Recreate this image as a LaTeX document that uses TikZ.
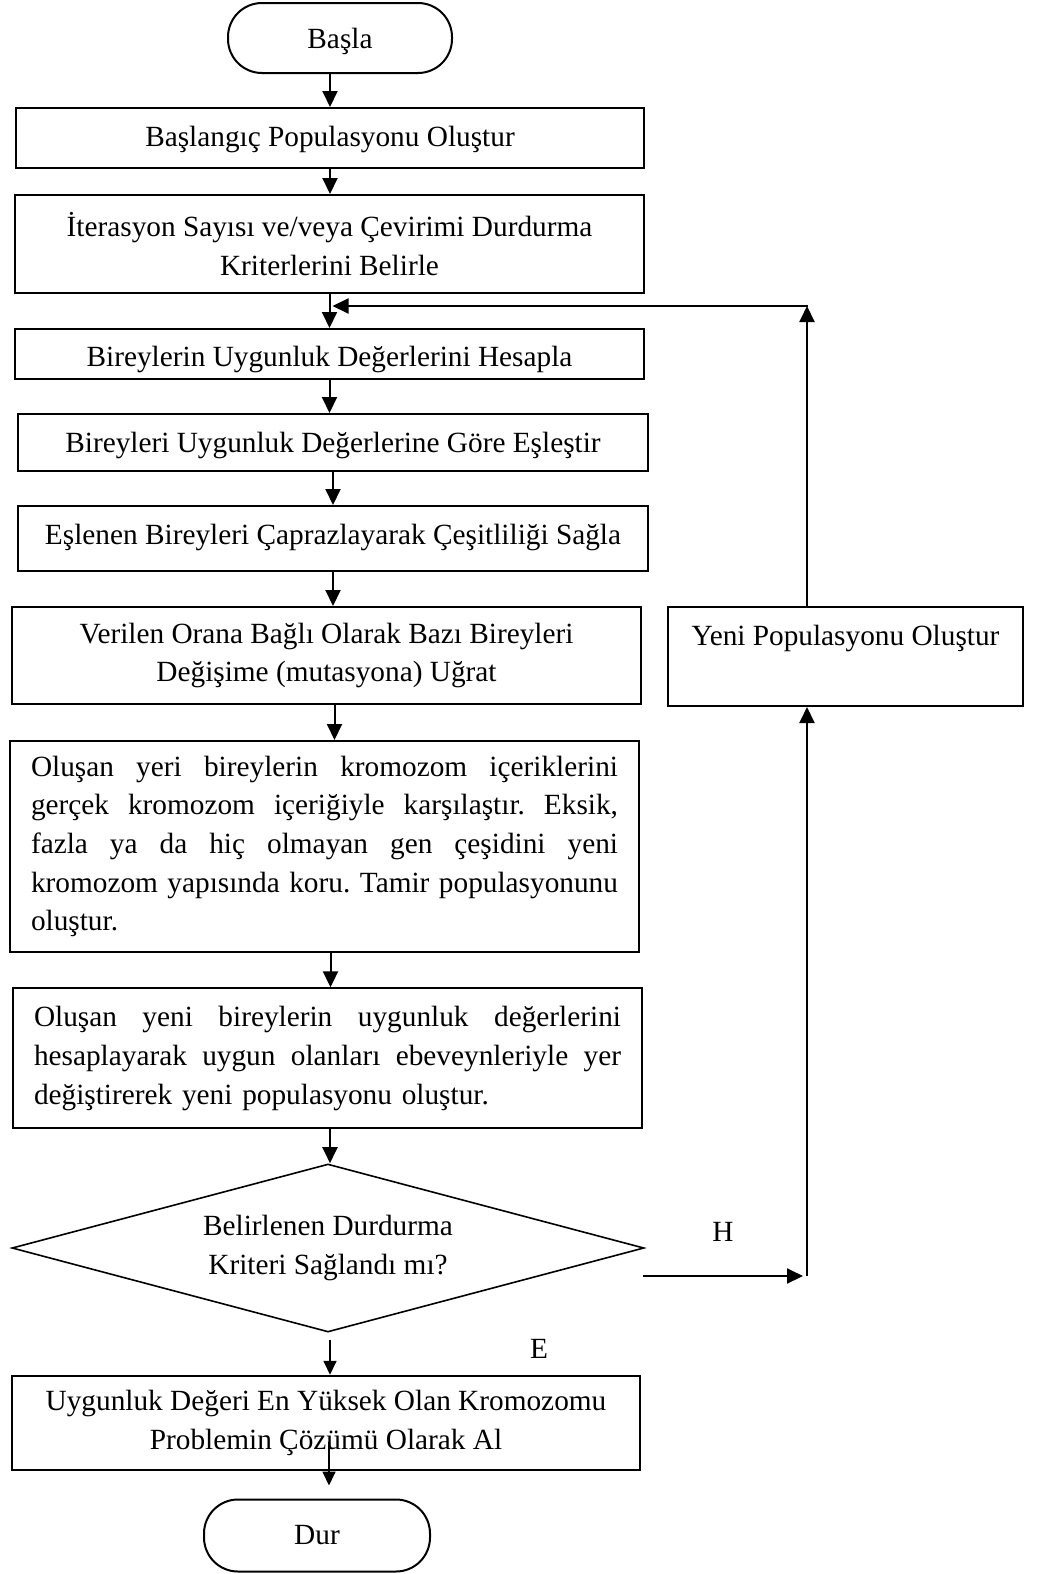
\documentclass[tikz,border=0pt]{standalone}
\usepackage{fontspec}
\setmainfont{Liberation Serif}
\usetikzlibrary{arrows.meta,shapes.geometric}
\newcommand\jline[1]{\leavevmode\hbox to 587pt{#1}}
\begin{document}
\begin{tikzpicture}[x=1pt,y=-1pt,
  every node/.style={font=\fontsize{29.3}{38.7}\selectfont, inner sep=0pt},
  proc/.style={draw, line width=2pt, rectangle},
  term/.style={draw, line width=2pt, rounded corners=34pt},
  decis/.style={draw, line width=1.6pt, diamond, aspect=3.8},
  arr/.style={line width=2pt, -{Triangle[length=16pt,width=15pt]}},
  sarr/.style={line width=1.7pt, -{Triangle[length=14pt,width=13pt]}}]
\fill[white] (0,0) rectangle (1043,1574);
\useasboundingbox (0,0) rectangle (1043,1574);

\node[term, minimum width=224pt, minimum height=70pt, text height=24pt, text depth=4pt] (start) at (340,38) {Başla};
\node[proc, minimum width=628pt, minimum height=60pt, text height=21pt, text depth=5pt] (b1) at (330,138) {Başlangıç Populasyonu Oluştur};
\node[proc, minimum width=629pt, minimum height=98pt, align=center] (b2) at (329.5,244) {İterasyon Sayısı ve/veya Çevirimi Durdurma\\Kriterlerini Belirle};
\node[proc, minimum width=629pt, minimum height=50pt, text height=27pt, text depth=3pt] (b3) at (329.5,354) {Bireylerin Uygunluk Değerlerini Hesapla};
\node[proc, minimum width=630pt, minimum height=57pt, text height=23pt, text depth=4pt] (b4) at (333,442.5) {Bireyleri Uygunluk Değerlerine Göre Eşleştir};
\node[proc, minimum width=630pt, minimum height=65pt, text height=17pt, text depth=6pt] (b5) at (333,538.5) {Eşlenen Bireyleri Çaprazlayarak Çeşitliliği Sağla};
\node[proc, minimum width=629pt, minimum height=97pt, align=center] (b6) at (326.5,655.5) {Verilen Orana Bağlı Olarak Bazı Bireyleri\\Değişime (mutasyona) Uğrat};
\node[proc, minimum width=629pt, minimum height=211pt, text width=587pt, align=left] (b7) at (324.5,846.5) {\jline{Oluşan\hfill yeri\hfill bireylerin\hfill kromozom\hfill içeriklerini}\\\jline{gerçek\hfill kromozom\hfill içeriğiyle\hfill karşılaştır.\hfill Eksik,}\\\jline{fazla\hfill ya\hfill da\hfill hiç\hfill olmayan\hfill gen\hfill çeşidini\hfill yeni}\\\jline{kromozom\hfill yapısında\hfill koru.\hfill Tamir\hfill populasyonunu}\\oluştur.};
\node[proc, minimum width=629pt, minimum height=140pt, text width=587pt, align=left] (b8) at (327.5,1058.3) {\jline{Oluşan\hfill yeni\hfill bireylerin\hfill uygunluk\hfill değerlerini}\\\jline{hesaplayarak\hfill uygun\hfill olanları\hfill ebeveynleriyle\hfill yer}\\değiştirerek yeni populasyonu oluştur.};
\node[decis, minimum width=632pt, minimum height=168pt, align=center] (dia) at (328,1248) {Belirlenen Durdurma\\Kriteri Sağlandı mı?};
\node[proc, minimum width=628pt, minimum height=94.5pt, align=center] (b9) at (326,1423) {Uygunluk Değeri En Yüksek Olan Kromozomu\\Problemin Çözümü Olarak Al};
\node[term, minimum width=226pt, minimum height=72pt, text height=24pt, text depth=7pt] (stop) at (317,1535.5) {Dur};
\node[proc, minimum width=355pt, minimum height=99pt, text height=20pt, text depth=43pt] (yeni) at (845.5,656.5) {Yeni Populasyonu Oluştur};

\node[anchor=base] (hlab) at (723,1241) {H};
\node[anchor=base] (elab) at (539,1358.5) {E};

\coordinate (jx) at (807,1276);
\coordinate (corner) at (807,306);

\draw[arr] (start.south -| b1.north) -- (b1.north);
\draw[arr] (b1.south) -- (b1.south |- b2.north);
\draw[arr] (b2.south) -- (b2.south |- b3.north);
\draw[arr] (b3.south) -- (b3.south |- b4.north);
\draw[arr] (b4.south) -- (b4.south |- b5.north);
\draw[arr] (b5.south) -- (b5.south |- b6.north);
\draw[arr] ([xshift=8pt]b6.south) -- ([xshift=8pt]b6.south |- b7.north);
\draw[arr] ([xshift=6pt]b7.south) -- ([xshift=6pt]b7.south |- b8.north);
\draw[arr] ([xshift=2.5pt]b8.south) -- ([xshift=2.5pt]b8.south |- dia.north);
\draw[sarr] ([xshift=2pt,yshift=-7pt]dia.south) -- ([xshift=2pt]dia.south |- b9.north);
\draw[sarr] ([xshift=3pt,yshift=-19pt]b9.center) -- ([xshift=12pt,yshift=13pt]stop.north);
\draw[arr] ([xshift=-2pt,yshift=-28pt]dia.east) -- ([xshift=-4pt]jx);
\draw[arr] (jx) -- (jx |- yeni.south);
\draw[arr] (yeni.north -| jx) -- (corner);
\draw[arr] ([xshift=1pt]corner) -- ([xshift=3pt]b2.south |- corner);
\end{tikzpicture}
\end{document}
